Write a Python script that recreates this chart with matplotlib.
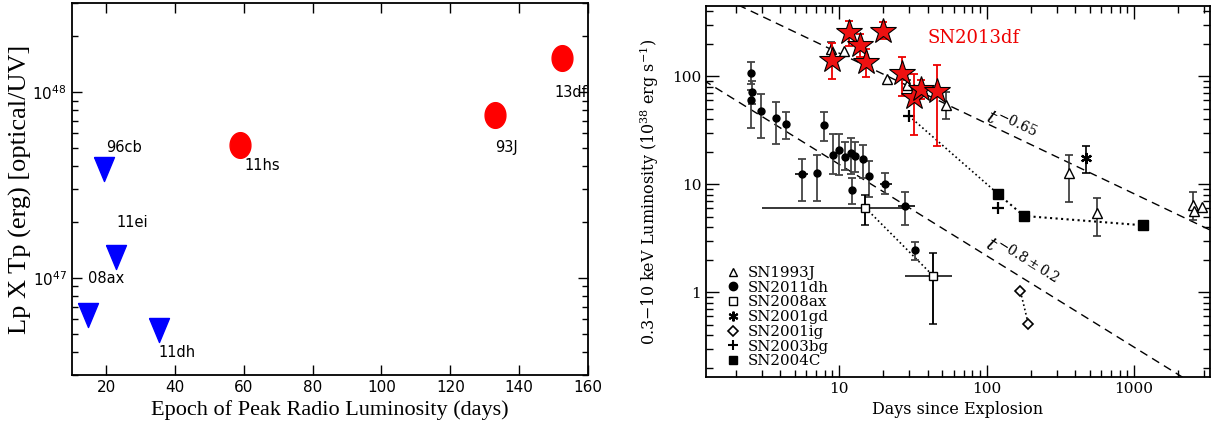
import numpy as np
import matplotlib
matplotlib.use('Agg')
import matplotlib.pyplot as plt
from matplotlib.lines import Line2D
from matplotlib.ticker import NullFormatter, LogLocator

# ---- left panel data ----
det_names = ['13df', '93J', '11hs']
det_days = [152.5, 133.1, 59.0]
det_lp = [1.53e48, 7.57e47, 5.19e47]

lim_names = ['96cb', '11ei', '08ax', '11dh']
lim_days = [19.4, 23.0, 14.9, 35.3]
lim_lp = [3.86e47, 1.29e47, 6.28e46, 5.21e46]

# label offsets in pixels (layout only)
det_off = [(-8, -35), (0, -33), (4, -21)]
lim_off = [(2, 21), (0, 35), (0, 37), (0, -22)]

# ---- right panel data ----
sn13df_t = [9.0, 11.6, 13.9, 15.2, 19.7, 26.7, 32.0, 35.9, 46.3]
sn13df_l = [141, 254, 194, 136, 259, 106, 64, 76, 73]
sn13df_lo = [94, 190, 151, 98, 219, 66, 28.5, 62, 22.7]
sn13df_hi = [201, 323, 247, 179, 314, 151, 104.5, 92, 128]

sn93j_t = [8.8, 10.8, 21.0, 29.0, 53, 362, 565, 2530, 2560, 2900]
sn93j_l = [177, 170, 94.4, 82.6, 53.6, 12.7, 5.47, 6.4, 5.7, 6.2]
sn93j_lo = [162, np.nan, np.nan, 74, 39.7, 6.85, 3.32, 4.64, np.nan, np.nan]
sn93j_hi = [205, np.nan, np.nan, 92, 70.6, 18.6, 7.53, 8.4, np.nan, np.nan]

sn11dh_t = [2.51, 2.58, 2.51, 2.94, 3.76, 4.33, 5.56, 7.03, 7.91, 9.02,
            10.0, 11.05, 12.1, 12.8, 14.5, 12.3, 16.0, 20.4, 28.2, 32.7]
sn11dh_l = [106, 71.6, 60, 47.7, 40.6, 36.1, 12.4, 12.8, 35.1, 18.8,
            20.7, 17.9, 19.5, 18.3, 17.3, 8.8, 11.9, 10.1, 6.3, 2.45]
sn11dh_lo = [85, 55, 33.2, 27, 23.4, 26.1, 7.0, 7.0, 25, 12.4,
             12.1, 13.5, 12.4, 13, 11.5, 6.6, 7.6, 8.2, 4.24, 1.98]
sn11dh_hi = [134, 90, 75, 68, 57.8, 46.8, 17, 18.8, 46.2, 29,
             29.4, 24.7, 26.8, 24.7, 23.3, 11.4, 16.3, 12.6, 8.4, 2.92]
sn11dh_tlo = [np.nan] * 6 + [5.0] + [np.nan] * 10 + [18.9, 25.0, np.nan]
sn11dh_thi = [np.nan] * 6 + [6.17] + [np.nan] * 10 + [22.7, 32.7, np.nan]

sn08ax_t = [15.1, 43.5]
sn08ax_l = [6.04, 1.42]
sn08ax_lo = [4.17, 0.513]
sn08ax_hi = [8.03, 2.33]
sn08ax_tlo = [3.0, 28.2]
sn08ax_thi = [27.9, 58]

sn01gd_t = [471]
sn01gd_l = [17.5]
sn01gd_lo = [12.7]
sn01gd_hi = [22.7]

sn01ig_t = [170, 192]
sn01ig_l = [1.02, 0.513]

sn03bg_t = [29.8, 120]
sn03bg_l = [42.8, 6.04]

sn04c_t = [119, 179.5, 1160]
sn04c_l = [8.2, 5.09, 4.17]

# power law fits: norm * t**index
pl_norm = [729, 107]
pl_index = [-0.65, -0.845]
pl_labels = [r'$t^{-0.65}$', r'$t^{-0.8\pm0.2}$']


def yerr(y, lo, hi):
    y, lo, hi = np.array(y, float), np.array(lo, float), np.array(hi, float)
    return np.vstack([y - lo, hi - y])


plt.rcParams['mathtext.fontset'] = 'dejavuserif'
fig = plt.figure(figsize=(12.12, 4.38), dpi=100)

# ===================== left panel =====================
axL = fig.add_axes([0.0591, 0.1438, 0.4261, 0.8484])
ell = [(0.81 * np.cos(a), np.sin(a)) for a in np.linspace(0, 2 * np.pi, 60)]
tri = [(-0.83, 1), (0.83, 1), (0, -1), (-0.83, 1)]
axL.plot(det_days, det_lp, ls='none', marker=ell, ms=18.5, color='#ff0000', mec='#ff0000')
axL.plot(lim_days, lim_lp, ls='none', marker=tri, ms=17.3, color='#0000ff', mec='#0000ff')
for n, x, y, o in zip(det_names + lim_names, det_days + lim_days, det_lp + lim_lp,
                      det_off + lim_off):
    axL.annotate(n, (x, y), xytext=o, textcoords='offset pixels', ha='left', va='center',
                 fontsize=10.5, family='DejaVu Sans')
axL.set_yscale('log')
axL.set_xlim(10, 160)
axL.set_ylim(3e46, 3e48)
axL.set_xticks([20, 40, 60, 80, 100, 120, 140, 160])
axL.yaxis.set_minor_formatter(NullFormatter())
axL.tick_params(which='both', direction='in', top=True, right=True, labelsize=11)
axL.tick_params(which='major', length=7, width=1)
axL.tick_params(which='minor', length=4, width=1)
for s in axL.spines.values():
    s.set_linewidth(1.3)
axL.set_xlabel('Epoch of Peak Radio Luminosity (days)', family='Liberation Serif', fontsize=16,
               labelpad=4)
axL.set_ylabel('Lp X Tp (erg) [optical/UV]', family='Liberation Serif', fontsize=19, labelpad=0)

# ===================== right panel =====================
axR = fig.add_axes([0.5825, 0.1393, 0.4158, 0.847])
axR.set_xscale('log')
axR.set_yscale('log')
axR.set_xlim(1.25, 3280)
axR.set_ylim(0.165, 445)

tt = np.logspace(0, 3.7, 200)
for nrm, idx in zip(pl_norm, pl_index):
    axR.plot(tt, nrm * tt ** idx, color='k', lw=1, ls=(0, (6, 4)))

# dotted connections
axR.plot(sn08ax_t, sn08ax_l, 'k:', lw=1.2)
axR.plot(sn01ig_t, sn01ig_l, 'k:', lw=1.2)
axR.plot(sn04c_t, sn04c_l, 'k:', lw=1.5)
axR.plot([sn03bg_t[0], sn04c_t[0]], [sn03bg_l[0], sn04c_l[0]], 'k:', lw=1.2)

ebkw = dict(ls='none', capsize=3, elinewidth=1.3, capthick=1.3)

# SN2011dh
axR.errorbar(sn11dh_t, sn11dh_l, yerr=yerr(sn11dh_l, sn11dh_lo, sn11dh_hi),
             fmt='o', ms=5, color='k', ecolor='#444444', **ebkw)
m = ~np.isnan(np.array(sn11dh_tlo, float))
tx = np.array(sn11dh_t)[m]
axR.errorbar(tx, np.array(sn11dh_l)[m],
             xerr=[tx - np.array(sn11dh_tlo)[m], np.array(sn11dh_thi)[m] - tx],
             fmt='none', ecolor='k', elinewidth=1.2, capsize=0)

# SN2008ax
t08 = np.array(sn08ax_t)
axR.errorbar(sn08ax_t, sn08ax_l, yerr=yerr(sn08ax_l, sn08ax_lo, sn08ax_hi),
             xerr=[t08 - np.array(sn08ax_tlo), np.array(sn08ax_thi) - t08],
             fmt='s', ms=6, mfc='white', mec='k', ecolor='k', ls='none',
             capsize=0, elinewidth=1.1)
axR.errorbar(sn08ax_t, sn08ax_l, yerr=yerr(sn08ax_l, sn08ax_lo, sn08ax_hi),
             fmt='none', ecolor='k', capsize=3, elinewidth=1.1, capthick=1.1)

# SN1993J
m = ~np.isnan(np.array(sn93j_lo, float))
axR.errorbar(np.array(sn93j_t)[m], np.array(sn93j_l)[m],
             yerr=yerr(np.array(sn93j_l)[m], np.array(sn93j_lo)[m], np.array(sn93j_hi)[m]),
             fmt='none', ecolor='#333333', capsize=3, elinewidth=1.2, capthick=1.2)
axR.plot(sn93j_t, sn93j_l, ls='none', marker='^', ms=6.5, mfc='white', mec='k', mew=1)

# SN2001gd
axR.errorbar(sn01gd_t, sn01gd_l, yerr=yerr(sn01gd_l, sn01gd_lo, sn01gd_hi),
             fmt='none', ecolor='k', capsize=3, elinewidth=1.2, capthick=1.2)
axR.plot(sn01gd_t, sn01gd_l, ls='none', marker=(6, 2, 0), ms=8, color='k', mew=1.6)

# SN2001ig, SN2003bg, SN2004C
axR.plot(sn01ig_t, sn01ig_l, ls='none', marker='D', ms=5, mfc='white', mec='k', mew=1.2)
axR.plot(sn03bg_t, sn03bg_l, ls='none', marker='+', ms=8, color='k', mew=1.6)
axR.plot(sn04c_t, sn04c_l, ls='none', marker='s', ms=6.5, color='k')

# SN2013df
axR.errorbar(sn13df_t, sn13df_l, yerr=yerr(sn13df_l, sn13df_lo, sn13df_hi),
             fmt='none', ecolor='#ee0000', capsize=3, elinewidth=1.3, capthick=1.3)
axR.plot(sn13df_t, sn13df_l, ls='none', marker='*', ms=19, mfc='#ee1111', mec='k', mew=0.8)

axR.text(0.44, 0.914, 'SN2013df', transform=axR.transAxes, color='#ee0000',
         family='DejaVu Serif', fontsize=13, va='center', ha='left')

# power-law labels
axR.text(146, 35, pl_labels[0], rotation=-25.5, ha='center', va='center',
         fontsize=14, family='DejaVu Serif')
axR.text(174, 1.9, pl_labels[1], rotation=-32, ha='center', va='center',
         fontsize=14, family='DejaVu Serif')

handles = [
    Line2D([], [], ls='none', marker='^', ms=6, mfc='white', mec='k'),
    Line2D([], [], ls='none', marker='o', ms=6, color='k'),
    Line2D([], [], ls='none', marker='s', ms=6, mfc='white', mec='k'),
    Line2D([], [], ls='none', marker=(6, 2, 0), ms=7, color='k', mew=1.5),
    Line2D([], [], ls='none', marker='D', ms=5, mfc='white', mec='k', mew=1.2),
    Line2D([], [], ls='none', marker='+', ms=7, color='k', mew=1.5),
    Line2D([], [], ls='none', marker='s', ms=6, color='k'),
]
labels = ['SN1993J', 'SN2011dh', 'SN2008ax', 'SN2001gd', 'SN2001ig', 'SN2003bg', 'SN2004C']
axR.legend(handles, labels, loc='lower left', bbox_to_anchor=(0.02, -0.005), frameon=False,
           handlelength=0.8, handletextpad=0.6, labelspacing=0.05, borderpad=0.2,
           prop={'family': 'DejaVu Serif', 'size': 10.8})

axR.set_xticks([10, 100, 1000])
axR.set_xticklabels(['10', '100', '1000'])
axR.set_yticks([1, 10, 100])
axR.set_yticklabels(['1', '10', '100'])
axR.xaxis.set_minor_locator(LogLocator(10, subs=np.arange(2, 10)))
axR.yaxis.set_minor_locator(LogLocator(10, subs=np.arange(2, 10)))
axR.xaxis.set_minor_formatter(NullFormatter())
axR.yaxis.set_minor_formatter(NullFormatter())
axR.tick_params(which='both', direction='in', top=True, right=True, width=1)
axR.tick_params(which='major', length=9)
axR.tick_params(which='minor', length=5)
axR.tick_params(axis='both', labelsize=11)
for lab in axR.get_xticklabels() + axR.get_yticklabels():
    lab.set_family('DejaVu Serif')
for s in axR.spines.values():
    s.set_linewidth(1.3)
axR.set_xlabel('Days since Explosion', family='DejaVu Serif', fontsize=11.5, labelpad=4)
axR.set_ylabel(r'0.3$-$10 keV Luminosity (10$^{38}$ erg s$^{-1}$)', family='DejaVu Serif',
               fontsize=11.5, labelpad=8)

fig.savefig('out.png', dpi=100)
